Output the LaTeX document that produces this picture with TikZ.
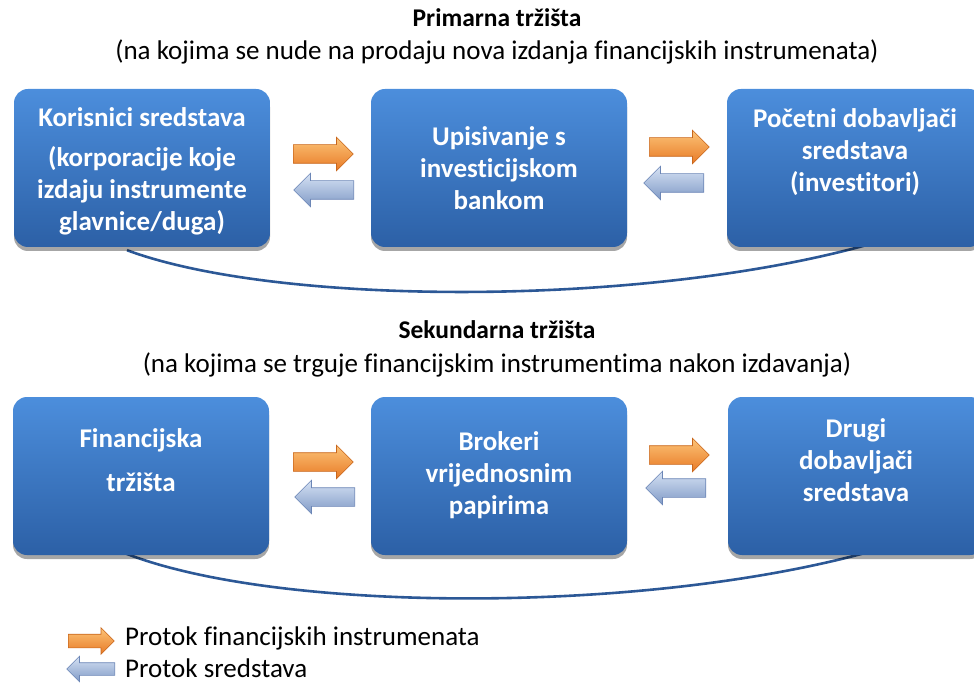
\documentclass[tikz,border=0pt]{standalone}
\usepackage{fontspec}
\setmainfont{Carlito}[Ligatures=NoCommon]
\usetikzlibrary{shapes.arrows,shadows,backgrounds}

\definecolor{boxtop}{RGB}{76,142,220}
\definecolor{boxbot}{RGB}{44,96,166}
\definecolor{curvec}{RGB}{44,88,150}
\definecolor{orA}{RGB}{252,196,120}
\definecolor{orB}{RGB}{232,122,38}
\definecolor{orD}{RGB}{200,102,28}
\definecolor{blA}{RGB}{214,226,244}
\definecolor{blB}{RGB}{128,154,198}
\definecolor{blD}{RGB}{108,134,182}

\tikzset{
  bx/.style={rounded corners=14pt, top color=boxtop, bottom color=boxbot, draw=none,
    minimum width=256pt, minimum height=158pt, inner sep=0pt,
    drop shadow={shadow xshift=0pt, shadow yshift=-4pt, opacity=0.35, fill=black}},
  btxt/.style={text=white, font=\bfseries\fontsize{27}{32}\selectfont, align=center, inner sep=0pt},
  ttl/.style={font=\bfseries\fontsize{25.5}{28}\selectfont, inner sep=0pt},
  sub/.style={font=\fontsize{27}{30}\selectfont, inner sep=0pt},
  arr/.style={single arrow, inner xsep=0pt, inner ysep=9pt, text height=0pt, text depth=0pt,
    single arrow head extend=7.5pt, minimum height=60pt, minimum width=1pt, anchor=tail},
  farr/.style={arr, top color=orA, bottom color=orB, draw=orD, line width=0.6pt},
  barr/.style={arr, shape border rotate=180, top color=blA, bottom color=blB, draw=blD, line width=0.6pt},
  conn/.style={draw=curvec, line width=2.6pt},
  legt/.style={font=\fontsize{27}{30}\selectfont, anchor=west, inner sep=0pt},
}

\begin{document}
\begin{tikzpicture}[x=1pt,y=-1pt]
\useasboundingbox (0,0) rectangle (974,684);

% titles
\node[ttl] (t1) at (497,18) {Primarna tržišta};
\node[sub] (s1) at (497,52) {(na kojima se nude na prodaju nova izdanja financijskih instrumenata)};
\node[ttl] (t2) at (497,330) {Sekundarna tržišta};
\node[sub] (s2) at (497,365) {(na kojima se trguje financijskim instrumentima nakon izdavanja)};

% boxes row 1
\node[bx] (b1) at (142,168) {};
\node[bx] (b2) at (499,168) {};
\node[bx] (b3) at (855,168) {};
% boxes row 2
\node[bx] (b4) at (141,476) {};
\node[bx] (b5) at (499,476) {};
\node[bx] (b6) at (856,476) {};

% box texts
\node[btxt] (x1a) at (142,117) {Korisnici sredstava};
\node[btxt] (x1b) at (142,191) {(korporacije koje\\izdaju instrumente\\glavnice/duga)};
\node[btxt] (x2) at (499,168) {Upisivanje s\\investicijskom\\bankom};
\node[btxt] (x3) at (855,152) {Početni dobavljači\\sredstava\\(investitori)};
\node[btxt] (x4a) at (141,440) {Financijska};
\node[btxt] (x4b) at (141,482) {tržišta};
\node[btxt] (x5) at (499,475) {Brokeri\\vrijednosnim\\papirima};
\node[btxt] (x6) at (856,460) {Drugi\\dobavljači\\sredstava};

% arrows
\node[farr] (f1) at (293,154) {};
\node[barr] (r1) at (354,190) {};
\node[farr] (f2) at (649,147) {};
\node[barr] (r2) at (704,183) {};
\node[farr] (f3) at (293,462) {};
\node[barr] (r3) at (355,497) {};
\node[farr] (f4) at (649,455) {};
\node[barr] (r4) at (706,488) {};

% curves
\begin{scope}[on background layer]
\draw[conn] ([xshift=-15pt,yshift=-3pt]b1.south) .. controls (280,307) and (650,307) .. ([xshift=18pt,yshift=4pt]b3.south);
\draw[conn] ([xshift=-16pt,yshift=2pt]b4.south) .. controls (280,614) and (650,614) .. ([xshift=19pt,yshift=5pt]b6.south);
\end{scope}

% legend
\node[farr, minimum height=46pt, inner ysep=6.5pt, single arrow head extend=6.5pt] (lf) at (68,641) {};
\node[barr, minimum height=48pt, inner ysep=6pt, single arrow head extend=6.5pt] (lb) at (115,669) {};
\node[legt] (l1) at (125,638) {Protok financijskih instrumenata};
\node[legt] (l2) at (125,668) {Protok sredstava};
\end{tikzpicture}
\end{document}
